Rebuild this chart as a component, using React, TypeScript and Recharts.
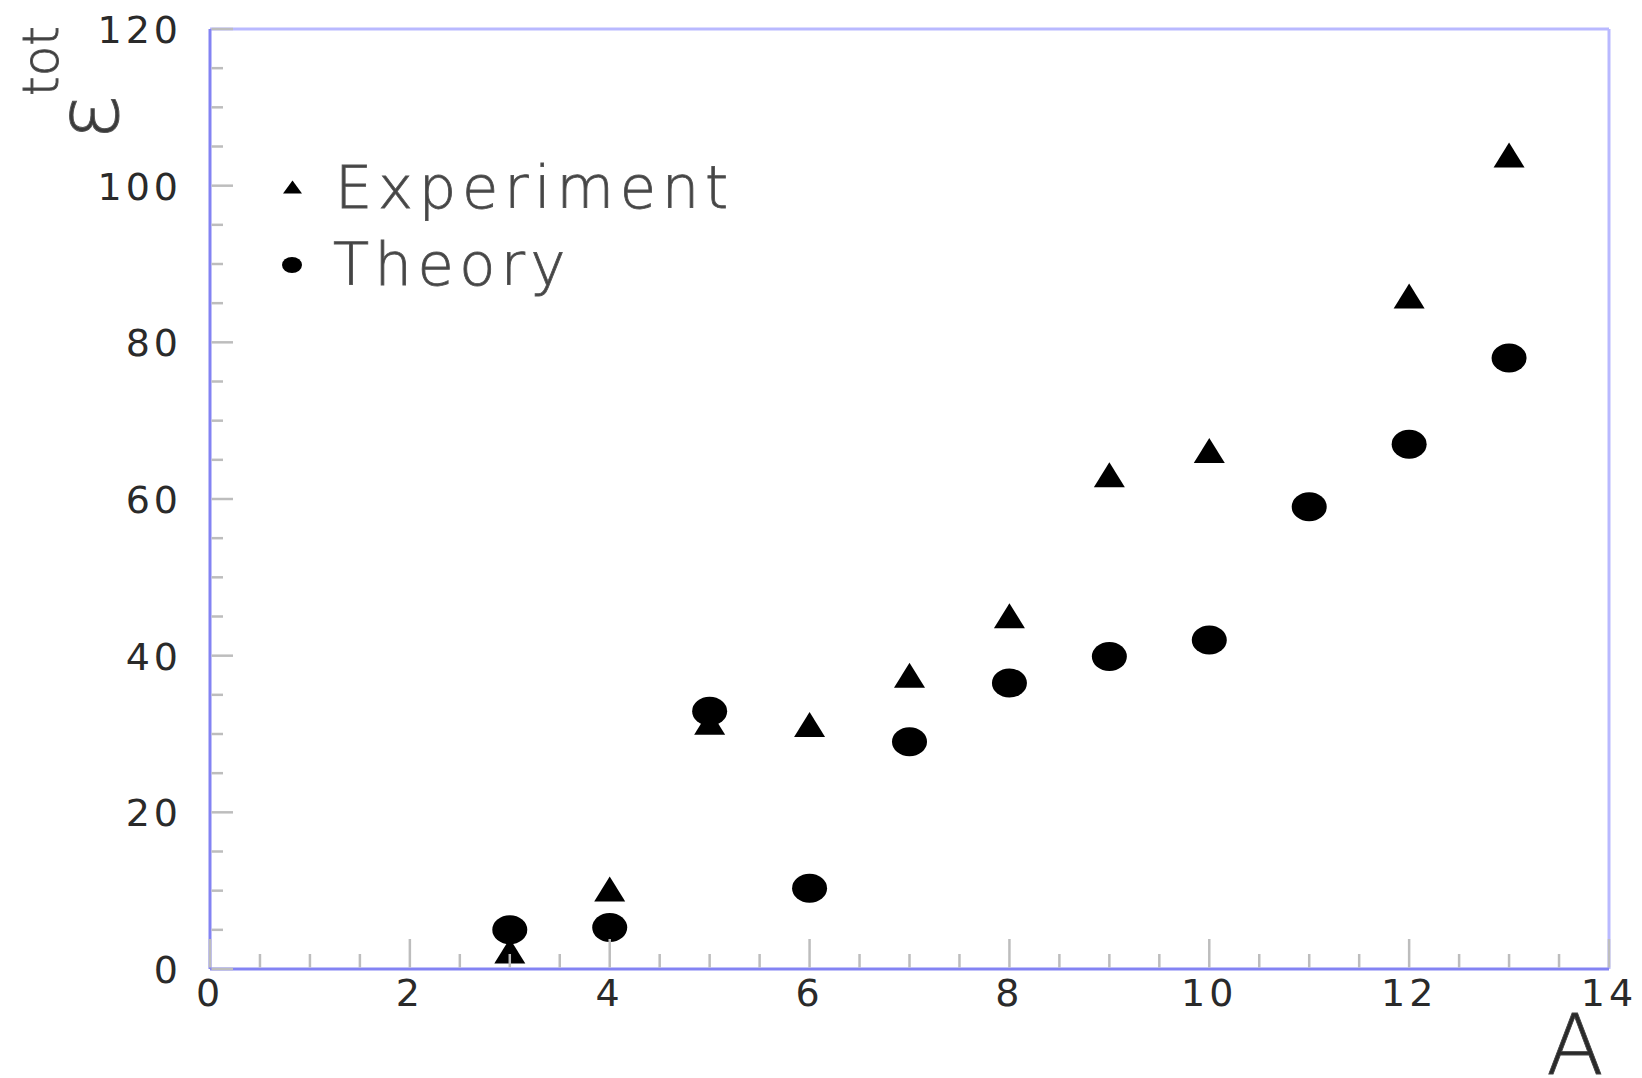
import React from 'react';
import { ScatterChart, Scatter, XAxis, YAxis, ReferenceLine, Legend, Label } from 'recharts';

const experimentA = [3, 4, 5, 6, 7, 8, 9, 10, 12, 13];
const experimentE = [2.3, 10.2, 31.5, 31.2, 37.5, 45.1, 63.1, 66.2, 85.9, 103.9];
const theoryA = [3, 4, 5, 6, 7, 8, 9, 10, 11, 12, 13];
const theoryE = [5.0, 5.3, 32.9, 10.3, 29.0, 36.5, 39.9, 42.0, 59.0, 67.0, 78.0];

const xTicks = [0, 0.5, 1, 1.5, 2, 2.5, 3, 3.5, 4, 4.5, 5, 5.5, 6, 6.5, 7, 7.5, 8, 8.5, 9, 9.5, 10, 10.5, 11, 11.5, 12, 12.5, 13, 13.5, 14];
const yTicks = [0, 5, 10, 15, 20, 25, 30, 35, 40, 45, 50, 55, 60, 65, 70, 75, 80, 85, 90, 95, 100, 105, 110, 115, 120];
const xMajor = [0, 2, 4, 6, 8, 10, 12, 14];
const yMajor = [0, 20, 40, 60, 80, 100, 120];

const experimentData = experimentA.map((a, i) => ({ a, e: experimentE[i] }));
const theoryData = theoryA.map((a, i) => ({ a, e: theoryE[i] }));

const TICK_COLOR = '#bdbdbd';
const FONT = 'DejaVu Sans';

const Triangle = (props: any) => {
  const { cx, cy } = props;
  if (cx == null || cy == null) return null;
  const w = 31, h = 25;
  return <polygon points={`${cx - w / 2},${cy + h / 2} ${cx + w / 2},${cy + h / 2} ${cx},${cy - h / 2}`} fill="#000" />;
};

const Dot = (props: any) => {
  const { cx, cy } = props;
  if (cx == null || cy == null) return null;
  return <ellipse cx={cx} cy={cy} rx={17.5} ry={14.5} fill="#000" />;
};

const XTick = (props: any) => {
  const { x, y, payload } = props;
  const major = xMajor.includes(payload.value);
  return (
    <g>
      <line x1={x} x2={x} y1={y - 1.5} y2={y - (major ? 30 : 15)} stroke={TICK_COLOR} strokeWidth={2.5} />
      {major && (
        <text x={x} y={y + 37} textAnchor="middle" fontSize={38} fontFamily={FONT} fill="#2a2a2a" letterSpacing={4}>
          {payload.value}
        </text>
      )}
    </g>
  );
};

const YTick = (props: any) => {
  const { x, y, payload } = props;
  const major = yMajor.includes(payload.value);
  return (
    <g>
      <line x1={x + 1.5} x2={x + (major ? 23 : 13)} y1={y} y2={y} stroke={TICK_COLOR} strokeWidth={2.5} />
      {major && (
        <text x={x - 28} y={y + 14} textAnchor="end" fontSize={38} fontFamily={FONT} fill="#2a2a2a" letterSpacing={4}>
          {payload.value}
        </text>
      )}
    </g>
  );
};

const LegendContent = () => (
  <svg width={480} height={170} style={{ display: 'block' }}>
    <polygon points="13,53.5 32,53.5 22.5,40.5" fill="#000" />
    <text x={65} y={68} fontSize={59} fontFamily={FONT} fontWeight={300} fill="#444" stroke="#555" strokeWidth={0.9} letterSpacing={5.8}>
      Experiment
    </text>
    <ellipse cx={22} cy={125} rx={10} ry={8} fill="#000" />
    <text x={63} y={145} fontSize={59} fontFamily={FONT} fontWeight={300} fill="#444" stroke="#555" strokeWidth={0.9} letterSpacing={5.5}>
      Theory
    </text>
  </svg>
);

const YLabel = () => (
  <g>
    <text transform="translate(118,117) rotate(-90)" textAnchor="middle" fontSize={86} fontFamily={FONT} fontWeight={300} fill="#3a3a3a" stroke="#555" strokeWidth={1}>
      ε
    </text>
    <text transform="translate(58,61) rotate(-90)" textAnchor="middle" fontSize={50} fontFamily={FONT} fontWeight={300} fill="#3a3a3a" stroke="#555" strokeWidth={1}>
      tot
    </text>
  </g>
);

const XLabel = () => (
  <text x={1575} y={1074} textAnchor="middle" fontSize={84} fontFamily={FONT} fontWeight={200} fill="#2a2a2a" stroke="#444" strokeWidth={0.8}>
    A
  </text>
);

export default function App() {
  return (
    <div style={{ position: 'absolute', left: 0, top: 0, width: 1642, height: 1078, background: '#fff' }}>
      <ScatterChart width={1642} height={1078} margin={{ top: 29, right: 33, bottom: 0, left: 0 }}>
        <XAxis
          type="number"
          dataKey="a"
          domain={[0, 14]}
          ticks={xTicks}
          interval={0}
          allowDataOverflow
          height={109}
          tickSize={0}
          tickMargin={0}
          tickLine={false}
          tick={<XTick />}
          axisLine={{ stroke: '#8383f3', strokeWidth: 3 }}
        >
          <Label content={<XLabel />} />
        </XAxis>
        <YAxis
          type="number"
          dataKey="e"
          domain={[0, 120]}
          ticks={yTicks}
          interval={0}
          allowDataOverflow
          width={210}
          tickSize={0}
          tickMargin={0}
          tickLine={false}
          tick={<YTick />}
          axisLine={{ stroke: '#8383f3', strokeWidth: 3 }}
        >
          <Label content={<YLabel />} />
        </YAxis>
        <ReferenceLine y={120} stroke="#b9b9ff" strokeWidth={3} />
        <ReferenceLine x={14} stroke="#b9b9ff" strokeWidth={3} />
        <Legend
          layout="horizontal"
          verticalAlign="middle"
          align="center"
          content={<LegendContent />}
          wrapperStyle={{ left: 270, top: 140, width: 480, height: 170 }}
        />
        <Scatter name="Experiment" data={experimentData} shape={<Triangle />} isAnimationActive={false} />
        <Scatter name="Theory" data={theoryData} shape={<Dot />} isAnimationActive={false} />
      </ScatterChart>
    </div>
  );
}
